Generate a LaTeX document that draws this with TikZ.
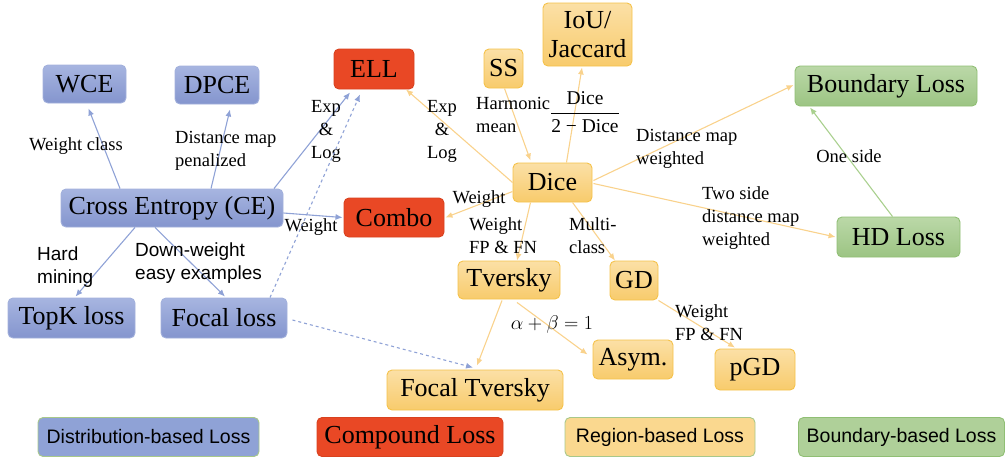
\documentclass[tikz,border=0pt]{standalone}
\usepackage{fontspec}
\setmainfont{Liberation Serif}
\setsansfont{Liberation Sans}
\usetikzlibrary{arrows.meta,calc}
\definecolor{btop}{HTML}{A7B5E0}
\definecolor{bbot}{HTML}{8495CE}
\definecolor{bbd}{HTML}{A3B1DC}
\definecolor{bline}{HTML}{8FA2D6}
\definecolor{ytop}{HTML}{FBE0A6}
\definecolor{ybot}{HTML}{F8CB6C}
\definecolor{ybd}{HTML}{F5C24A}
\definecolor{yline}{HTML}{F9D28C}
\definecolor{gtop}{HTML}{BBD8A8}
\definecolor{gbot}{HTML}{9CC483}
\definecolor{gbd}{HTML}{90BF74}
\definecolor{gline}{HTML}{A9D08E}
\definecolor{rfill}{HTML}{E94825}
\definecolor{rbd}{HTML}{D8421F}
\definecolor{legbd}{HTML}{A8C88A}
\tikzset{
  every node/.style={inner sep=0pt},
  bx/.style={rounded corners=5pt, line width=0.9pt, align=center, font=\fontsize{26}{29}\selectfont},
  blu/.style={bx, draw=bbd, top color=btop, bottom color=bbot},
  yel/.style={bx, draw=ybd, top color=ytop, bottom color=ybot},
  grn/.style={bx, draw=gbd, top color=gtop, bottom color=gbot},
  red/.style={bx, draw=rbd, fill=rfill},
  lab/.style={font=\fontsize{18.5}{23}\selectfont, align=left},
  slab/.style={font=\sffamily\fontsize{19}{23}\selectfont, align=left},
  legtxt/.style={font=\sffamily\fontsize{19.5}{21}\selectfont},
  tipa/.style={-{Latex[length=7pt,width=6pt]}},
  be/.style={draw=bline, line width=1.1pt, tipa},
  ye/.style={draw=yline, line width=1.1pt, tipa},
  ge/.style={draw=gline, line width=1.1pt, tipa},
}
\begin{document}
\begin{tikzpicture}[x=1pt,y=-1pt]
\useasboundingbox (0,0) rectangle (1008,459);
% distribution-based
\node[blu, minimum width=83, minimum height=38] (wce) at (84.5,84) {WCE};
\node[blu, minimum width=84, minimum height=38] (dpce) at (217,85) {DPCE};
\node[blu, minimum width=222, minimum height=38] (ce) at (172,208) {Cross Entropy (CE)};
\node[blu, minimum width=127, minimum height=40] (topk) at (71.5,318) {TopK loss};
\node[blu, minimum width=126, minimum height=40] (focal) at (224,318) {Focal loss};
% compound
\node[red, minimum width=80, minimum height=40] (ell) at (374,69) {ELL};
\node[red, minimum width=100, minimum height=39] (combo) at (394,217.5) {Combo};
% region
\node[yel, minimum width=39, minimum height=39] (ss) at (503.5,68.5) {SS};
\node[yel, minimum width=89, minimum height=63] (iou) at (587.5,34.5) {IoU/\\Jaccard};
\node[yel, minimum width=79, minimum height=39] (dice) at (552.5,182.5) {Dice};
\node[yel, minimum width=102, minimum height=38] (tv) at (509,280) {Tversky};
\node[yel, minimum width=48, minimum height=39] (gd) at (634,280.5) {GD};
\node[yel, minimum width=80, minimum height=39] (asym) at (633,359.5) {Asym.};
\node[yel, minimum width=80, minimum height=41] (pgd) at (755,369.5) {pGD};
\node[yel, minimum width=176, minimum height=40] (fotv) at (475,390) {Focal Tversky};
% boundary
\node[grn, minimum width=182, minimum height=40] (bnd) at (886,86) {Boundary Loss};
\node[grn, minimum width=123, minimum height=40] (hd) at (898.5,237) {HD Loss};
% edges
\draw[be] ($(ce.north)+(-52,0)$) -- ($(wce.south)+(4,5)$);
\node[lab, anchor=center] (l_wc) at (76,146) {Weight class};
\draw[be] ($(ce.north)+(39,0)$) -- ($(dpce.south)+(13,5)$);
\node[lab, anchor=west] (l_dm) at (175,151) {Distance map\\penalized};
\draw[be] ($(ce.north)+(102,0)$) -- ($(ell.south)+(-24,3)$);
\node[lab, align=center] (l_el1) at (326,131) {Exp\\\&\\Log};
\draw[be] ($(ce.east)+(0,5)$) -- ($(combo.west)+(-1,0)$);
\node[lab] (l_w1) at (311,227) {Weight};
\draw[be] ($(ce.south)+(-37,0)$) -- ($(topk.north)+(4,-1)$);
\node[slab, anchor=west] (l_hm) at (37,267) {Hard\\mining};
\draw[be] ($(ce.south)+(-17,0)$) -- ($(focal.north)+(1,-1)$);
\node[slab, anchor=west] (l_dw) at (135,263) {Down-weight\\easy examples};
\draw[be, dashed] ($(focal.north)+(46,0)$) -- ($(ell.south)+(-14,5)$);
\draw[be, dashed] ($(focal.east)+(5,2)$) -- ($(fotv.north)+(-2,-2)$);
% region edges
\draw[ye] (dice.west) -- ($(ell.south)+(32,0)$);
\node[lab, align=center] (l_el2) at (442,131) {Exp\\\&\\Log};
\draw[ye] ($(ss.south)+(1,0)$) -- ($(dice.north)+(-22,-2)$);
\node[lab, anchor=west] (l_hmn) at (476,115) {Harmonic\\mean};
\draw[ye] ($(dice.north)+(14,0)$) -- ($(iou.south)+(-5.5,1)$);
\node[font=\fontsize{19.5}{22}\selectfont] (l_fr) at (585,112) {$\displaystyle\frac{\mbox{Dice}}{\mbox{2 − Dice}}$};
\draw[ye] ($(dice.east)+(1,-2)$) -- ($(bnd.west)+(-1,-1)$);
\node[lab, anchor=west] (l_dmw) at (636,149) {Distance map\\weighted};
\draw[ye] ($(dice.east)+(1,1)$) -- ($(hd.west)+(-1,0)$);
\node[lab, anchor=west] (l_ts) at (702,218) {Two side\\distance map\\weighted};
\draw[ge] ($(hd.north)+(-6,0)$) -- ($(bnd.south)+(-76,1)$);
\node[lab] (l_os) at (849,156) {One side};
\draw[ye] ($(dice.west)+(0,9)$) -- ($(combo.east)+(1,0)$);
\node[lab] (l_w2) at (479,199) {Weight};
\draw[ye] ($(dice.south)+(-22,0)$) -- ($(tv.north)+(8,0)$);
\node[lab, anchor=west] (l_fp1) at (469,236) {Weight\\FP \& FN};
\draw[ye] ($(dice.south)+(20,0)$) -- ($(gd.north)+(-19,0)$);
\node[lab, anchor=west] (l_mc) at (569,236) {Multi-\\class};
\draw[ye] ($(tv.south)+(-7,1)$) -- ($(fotv.north)+(2,-4)$);
\draw[ye] ($(tv.south)+(8,3)$) -- ($(asym.west)+(-5,-5)$);
\node[font=\fontsize{18.5}{21}\selectfont, scale=1.15] (l_ab) at (552,325) {$\alpha+\beta=1$};
\draw[ye] (gd.south east) -- ($(pgd.north)+(-20,-1)$);
\node[lab, anchor=west] (l_fp2) at (675,323) {Weight\\FP \& FN};
% legend
\node[rounded corners=5pt, draw=legbd, line width=0.9pt, fill=bline, minimum width=221, minimum height=39, legtxt] (lg1) at (148.5,437) {Distribution-based Loss};
\node[red, minimum width=186, minimum height=39] (lg2) at (410,437) {Compound Loss};
\node[rounded corners=5pt, draw=legbd, line width=0.9pt, fill=ytop!60!ybot, minimum width=190, minimum height=39, legtxt] (lg3) at (660,437) {Region-based Loss};
\node[rounded corners=5pt, draw=gbd, line width=0.9pt, fill=gtop!60!gbot, minimum width=206, minimum height=39, legtxt] (lg4) at (901.5,437) {Boundary-based Loss};
\end{tikzpicture}
\end{document}
